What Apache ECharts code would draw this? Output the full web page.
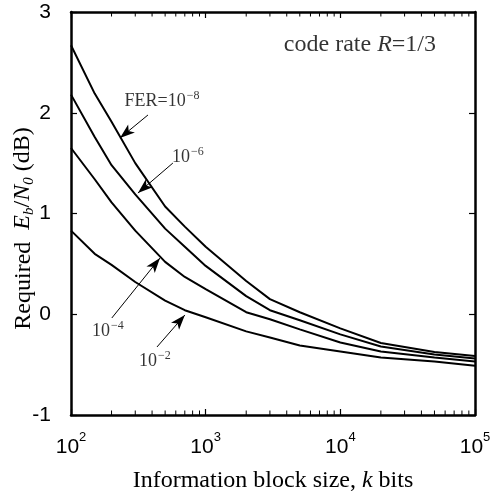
<!DOCTYPE html>
<html><head><meta charset="utf-8">
<script src="https://cdn.jsdelivr.net/npm/echarts@6/dist/echarts.min.js"></script>
<style>html,body{margin:0;padding:0;background:#fff}#c{width:492px;height:493px}</style>
</head><body><div id="c"></div>
<script>
// ---- data ----
const blockSizes = [100,150,200,300,500,700,1000,2000,3000,5000,10000,20000,50000,100000];
const fer1e8 = [2.67,2.19,1.91,1.50,1.07,0.87,0.67,0.33,0.15,0.02,-0.14,-0.285,-0.375,-0.415];
const fer1e6 = [2.18,1.76,1.48,1.19,0.85,0.67,0.48,0.18,0.04,-0.06,-0.20,-0.32,-0.40,-0.44];
const fer1e4 = [1.65,1.34,1.11,0.83,0.52,0.37,0.25,0.02,-0.05,-0.15,-0.28,-0.37,-0.43,-0.47];
const fer1e2 = [0.83,0.60,0.49,0.32,0.135,0.04,-0.03,-0.17,-0.23,-0.31,-0.37,-0.43,-0.47,-0.51];
const seriesNames = ['FER=1e-8','FER=1e-6','FER=1e-4','FER=1e-2'];
const xTickValues = [100,1000,10000,100000];
const xTickExponents = ['2','3','4','5'];
const yTickLabels = ['-1','0','1','2','3'];
const minorTickValues = [200,300,400,500,600,700,800,900,2000,3000,4000,5000,6000,7000,8000,9000,20000,30000,40000,50000,60000,70000,80000,90000];

// ---- chart ----
const serif = 'Liberation Serif';
const sans = 'Liberation Sans';
const curves = [fer1e8, fer1e6, fer1e4, fer1e2];

const lineSeries = curves.map((arr, i) => ({
  type: 'line', name: seriesNames[i],
  data: blockSizes.map((x, j) => [x, arr[j]]),
  symbol: 'none', showSymbol: false,
  lineStyle: { color: '#000', width: 2 }, z: 3, silent: true
}));

const supRich = {
  t: { fontFamily: serif, fontSize: 18, color: '#000', verticalAlign: 'bottom' },
  sup: { fontFamily: serif, fontSize: 12, color: '#000', verticalAlign: 'bottom', padding: [0, 0, 9, 1] },
  c: { fontFamily: serif, fontSize: 24, color: '#000', verticalAlign: 'bottom' },
  ci: { fontFamily: serif, fontSize: 24, fontStyle: 'italic', color: '#000', verticalAlign: 'bottom' }
};
const annotations = [
  { pos: [474, 2.127], text: '{t|FER=10}{sup|−8}' },
  { pos: [739, 1.571], text: '{t|10}{sup|−6}' },
  { pos: [188, -0.156], text: '{t|10}{sup|−4}' },
  { pos: [420, -0.454], text: '{t|10}{sup|−2}' },
  { pos: [13980, 2.68], text: '{c|code rate }{ci|R}{c|=1/3}' }
];
const arrows = [
  [[373, 1.978], [231, 1.749]],
  [[571, 1.501], [314, 1.203]],
  [[201, -0.037], [458, 0.558]],
  [[435, -0.325], [701, -0.007]]
];

const annoSeries = {
  type: 'scatter', name: 'annotations', silent: true,
  symbol: 'circle', symbolSize: 1, itemStyle: { color: 'rgba(0,0,0,0)' },
  data: annotations.map(a => ({ value: a.pos, label: { show: true, formatter: a.text } })),
  label: { show: true, position: 'inside', align: 'center', verticalAlign: 'middle', rich: supRich },
  markLine: {
    silent: true, animation: false,
    symbol: ['none', 'arrow'], symbolSize: [8, 15],
    lineStyle: { color: '#000', width: 1, type: 'solid' },
    label: { show: false },
    emphasis: { disabled: true },
    data: arrows.map(a => [{ coord: a[0] }, { coord: a[1] }])
  },
  z: 5
};

// minor (2..9) ticks of the log axis, drawn inward on bottom and top frame
const minorSeries = {
  type: 'custom', name: 'minorTicks', silent: true,
  data: minorTickValues.map(v => [v, 0]),
  encode: { x: 0, y: 1 },
  renderItem: (params, api) => {
    const v = api.value(0);
    const b = api.coord([v, -1]);
    const t = api.coord([v, 3]);
    const st = { stroke: '#000', lineWidth: 1 };
    return {
      type: 'group', children: [
        { type: 'line', shape: { x1: b[0], y1: b[1], x2: b[0], y2: b[1] - 4.5 }, style: st },
        { type: 'line', shape: { x1: t[0], y1: t[1], x2: t[0], y2: t[1] + 4.5 }, style: st }
      ]
    };
  },
  z: 10
};

const axisLine = { show: true, onZero: false, lineStyle: { color: '#000', width: 2.5 } };
const tick = { show: true, inside: true, length: 6, lineStyle: { color: '#000', width: 1.2 } };
const option = {
  animation: false,
  backgroundColor: '#fff',
  grid: { left: 71, right: 17, top: 12, bottom: 78, containLabel: false, outerBoundsMode: 'none' },
  xAxis: [{
    type: 'log', min: 100, max: 100000, logBase: 10,
    axisLine: axisLine, axisTick: tick,
    splitLine: { show: false },
    axisLabel: {
      margin: 16,
      formatter: v => {
        const i = xTickValues.findIndex(t => Math.abs(t - v) / t < 1e-6);
        return i < 0 ? '' : '{b|10}{s|' + xTickExponents[i] + '}';
      },
      rich: {
        b: { fontFamily: sans, fontSize: 21, color: '#000', verticalAlign: 'bottom' },
        s: { fontFamily: sans, fontSize: 13, color: '#000', verticalAlign: 'bottom', padding: [0, 0, 14, 0] }
      }
    },
    name: 'Information block size, {i|k} bits',
    nameLocation: 'middle', nameGap: 54, nameMoveOverlap: false,
    nameTextStyle: {
      fontFamily: serif, fontSize: 24, color: '#000',
      rich: { i: { fontFamily: serif, fontSize: 24, fontStyle: 'italic', color: '#000' } }
    }
  }, {
    type: 'log', min: 100, max: 100000, logBase: 10, position: 'top',
    axisLine: axisLine, axisTick: tick,
    splitLine: { show: false }, axisLabel: { show: false }
  }],
  yAxis: [{
    type: 'value', min: -1, max: 3, interval: 1,
    axisLine: axisLine, axisTick: tick,
    splitLine: { show: false },
    axisLabel: {
      margin: 20, fontFamily: sans, fontSize: 21, color: '#000',
      formatter: v => yTickLabels[Math.round(v) + 1]
    },
    name: 'Required  {i|E}{sub|b}{t|/}{i|N}{sub|0}{t| (dB)}',
    nameLocation: 'middle', nameGap: 34, nameRotate: 90, nameMoveOverlap: false,
    nameTextStyle: {
      fontFamily: serif, fontSize: 24, color: '#000',
      padding: [0, 30, 0, 0],
      rich: {
        t: { fontFamily: serif, fontSize: 24, color: '#000', verticalAlign: 'top' },
        i: { fontFamily: serif, fontSize: 24, fontStyle: 'italic', color: '#000', verticalAlign: 'top' },
        sub: { fontFamily: serif, fontSize: 15, fontStyle: 'italic', color: '#000', verticalAlign: 'top', padding: [11, 0, 0, 0] }
      }
    }
  }, {
    type: 'value', min: -1, max: 3, interval: 1, position: 'right',
    axisLine: axisLine, axisTick: tick,
    splitLine: { show: false }, axisLabel: { show: false }
  }],
  series: lineSeries.concat([annoSeries, minorSeries])
};
const chart = echarts.init(document.getElementById('c'));
chart.setOption(option);
</script>
</body></html>
